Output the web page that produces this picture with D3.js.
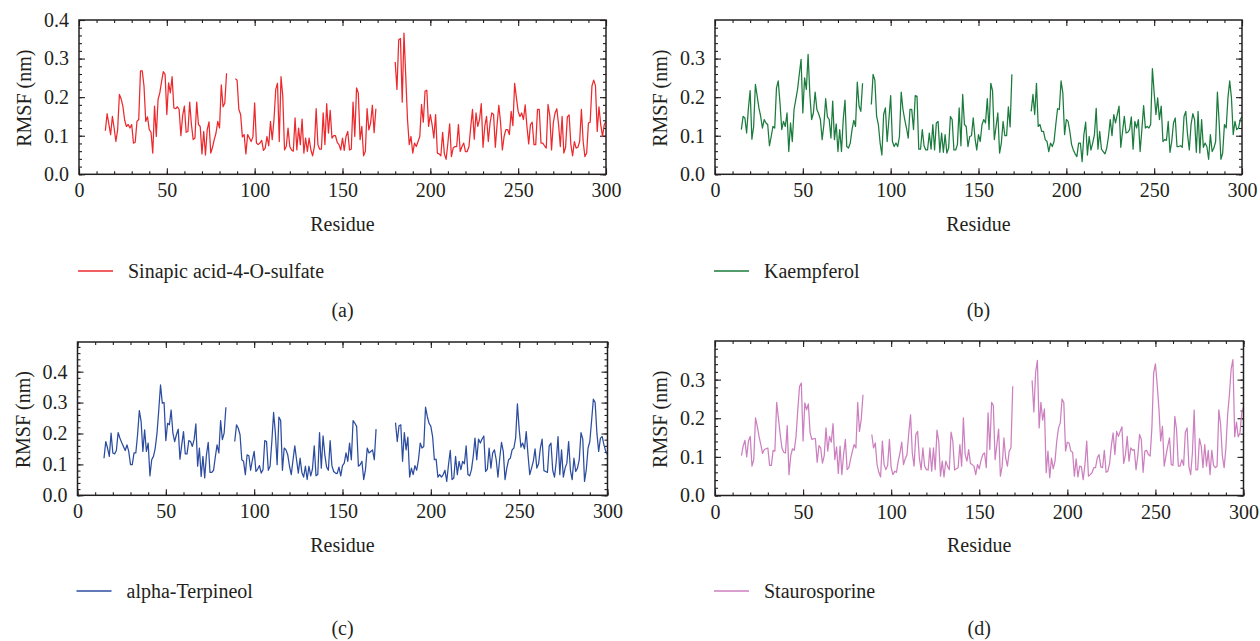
<!DOCTYPE html>
<html>
<head>
<meta charset="utf-8">
<script src="https://cdn.jsdelivr.net/npm/d3@7"></script>
<style>
  body { margin: 0; background: #fff; }
  svg text { font-family: "Liberation Serif", "DejaVu Serif", serif; fill: #231f20; }
</style>
</head>
<body>
<div></div>
<script>
// residue where each continuous stretch of data starts (gaps 85-88 and 170-179)
var segStarts = [15, 89, 180];

var xTicks = [0, 50, 100, 150, 200, 250, 300];

var names = ["Sinapic acid-4-O-sulfate", "Kaempferol", "alpha-Terpineol", "Staurosporine"];
var panelTags = ["(a)", "(b)", "(c)", "(d)"];
var colors = ["#ec2a2e", "#1b7b3d", "#2c4c9f", "#cd80bf"];

// RMSF values (nm), one array per stretch
var sinapic = [
  [.113,.157,.130,.103,.150,.120,.085,.116,.207,.195,
   .176,.140,.124,.129,.120,.129,.081,.083,.137,.142,
   .268,.268,.229,.137,.149,.116,.109,.055,.177,.098,
   .194,.211,.240,.266,.259,.155,.237,.211,.253,.172,
   .170,.175,.168,.100,.152,.177,.109,.111,.187,.129,
   .090,.094,.187,.129,.124,.053,.111,.050,.116,.136,
   .055,.070,.090,.107,.137,.120,.232,.175,.185,.262],
  [.248,.244,.168,.155,.097,.103,.053,.103,.094,.085,
   .097,.185,.081,.077,.081,.088,.062,.068,.098,.074,
   .137,.090,.142,.220,.236,.085,.253,.203,.063,.072,
   .120,.072,.063,.060,.146,.063,.120,.077,.143,.055,
   .094,.059,.094,.063,.048,.072,.170,.077,.065,.065,
   .159,.077,.183,.107,.166,.094,.100,.100,.083,.077,
   .063,.094,.062,.098,.111,.063,.065,.187,.098,.224,
   .211,.090,.124,.048,.059,.170,.115,.133,.179,.108,
   .170],
  [.291,.220,.349,.352,.187,.366,.255,.142,.077,.098,
   .055,.081,.072,.085,.098,.181,.135,.216,.218,.124,
   .155,.129,.094,.155,.055,.053,.048,.109,.053,.039,
   .081,.131,.046,.068,.072,.072,.129,.059,.072,.081,
   .059,.059,.072,.123,.168,.091,.159,.124,.142,.183,
   .070,.124,.150,.085,.133,.159,.155,.070,.129,.179,
   .133,.063,.098,.116,.116,.103,.163,.126,.236,.198,
   .163,.150,.159,.142,.180,.124,.079,.129,.135,.077,
   .077,.168,.168,.081,.081,.074,.068,.181,.152,.063,
   .133,.159,.170,.129,.072,.150,.055,.070,.149,.154,
   .077,.048,.085,.068,.070,.085,.168,.085,.046,.055,
   .133,.135,.229,.244,.230,.111,.175,.129,.098,.129,
   .137]
];

var kaempferol = [
  [.116,.150,.146,.107,.170,.217,.091,.124,.233,.203,
   .172,.150,.120,.142,.133,.129,.074,.098,.124,.120,
   .224,.242,.185,.116,.137,.124,.159,.059,.133,.085,
   .168,.194,.220,.260,.298,.159,.250,.220,.311,.207,
   .142,.159,.213,.168,.157,.142,.090,.129,.196,.149,
   .142,.094,.190,.090,.131,.059,.116,.059,.142,.192,
   .072,.068,.081,.116,.140,.124,.239,.177,.163,.236],
  [.181,.259,.244,.150,.129,.081,.050,.155,.172,.085,
   .142,.204,.085,.072,.081,.072,.098,.213,.168,.142,
   .120,.094,.168,.168,.116,.204,.202,.065,.065,.116,
   .074,.063,.063,.107,.065,.129,.063,.133,.137,.057,
   .107,.057,.103,.055,.068,.150,.142,.063,.063,.077,
   .172,.074,.207,.129,.124,.072,.098,.100,.146,.094,
   .063,.103,.085,.129,.142,.133,.196,.116,.236,.216,
   .090,.124,.159,.055,.081,.137,.100,.100,.175,.123,
   .259],
  [.163,.207,.155,.236,.124,.129,.111,.111,.090,.085,
   .059,.081,.072,.085,.129,.170,.168,.242,.211,.103,
   .142,.137,.111,.077,.063,.053,.046,.081,.081,.033,
   .103,.135,.050,.098,.063,.081,.103,.171,.065,.111,
   .065,.059,.053,.068,.098,.142,.100,.155,.133,.155,
   .177,.070,.111,.150,.107,.109,.116,.149,.065,.137,
   .120,.142,.059,.116,.178,.120,.124,.120,.129,.274,
   .211,.155,.198,.142,.177,.085,.090,.088,.137,.057,
   .085,.133,.146,.072,.072,.074,.070,.150,.163,.103,
   .063,.129,.157,.142,.057,.163,.055,.142,.070,.081,
   .072,.039,.103,.059,.068,.085,.213,.133,.039,.055,
   .129,.120,.198,.242,.198,.103,.137,.116,.120,.142,
   .150]
];

var terpineol = [
  [.120,.174,.153,.126,.201,.137,.134,.145,.203,.185,
   .171,.158,.145,.163,.142,.099,.099,.137,.137,.196,
   .274,.239,.142,.212,.142,.169,.063,.115,.126,.153,
   .201,.276,.357,.298,.300,.177,.233,.228,.276,.201,
   .174,.196,.214,.117,.163,.206,.134,.134,.177,.174,
   .158,.180,.231,.094,.153,.061,.126,.056,.131,.171,
   .074,.074,.081,.124,.163,.137,.242,.180,.201,.285],
  [.174,.228,.217,.196,.115,.110,.067,.131,.128,.081,
   .115,.142,.077,.085,.096,.072,.083,.177,.174,.081,
   .094,.174,.268,.201,.099,.253,.242,.081,.153,.147,
   .131,.094,.067,.115,.160,.115,.072,.120,.074,.059,
   .094,.051,.094,.063,.085,.160,.063,.067,.203,.088,
   .192,.131,.091,.081,.177,.096,.077,.072,.070,.091,
   .063,.096,.104,.137,.110,.169,.115,.242,.233,.223,
   .094,.099,.110,.051,.083,.153,.137,.142,.147,.115,
   .214],
  [.235,.174,.225,.228,.110,.203,.147,.188,.059,.088,
   .067,.096,.081,.115,.169,.153,.158,.285,.255,.233,
   .223,.190,.115,.117,.059,.067,.059,.067,.081,.045,
   .099,.145,.051,.056,.126,.067,.110,.083,.110,.102,
   .160,.067,.063,.083,.126,.185,.115,.182,.169,.182,
   .192,.077,.085,.153,.088,.137,.147,.115,.059,.120,
   .171,.142,.051,.088,.115,.120,.147,.153,.185,.296,
   .214,.156,.169,.150,.206,.131,.067,.088,.110,.150,
   .088,.102,.153,.182,.080,.077,.074,.160,.169,.081,
   .059,.110,.190,.067,.147,.059,.088,.104,.174,.081,
   .051,.120,.077,.088,.115,.203,.182,.045,.083,.153,
   .174,.242,.311,.300,.201,.142,.185,.190,.163,.142,
   .131]
];

var staurosporine = [
  [.103,.128,.143,.100,.141,.153,.076,.093,.201,.179,
   .153,.132,.109,.119,.121,.123,.078,.078,.117,.115,
   .241,.201,.158,.123,.112,.110,.181,.054,.103,.121,
   .117,.153,.222,.283,.291,.141,.240,.222,.237,.162,
   .145,.147,.147,.086,.129,.123,.084,.103,.175,.115,
   .153,.138,.186,.093,.126,.057,.128,.054,.106,.145,
   .067,.072,.095,.115,.132,.123,.241,.166,.197,.261],
  [.158,.123,.136,.080,.060,.048,.141,.080,.067,.078,
   .145,.072,.054,.063,.060,.089,.110,.138,.080,.095,
   .106,.162,.209,.110,.076,.158,.166,.097,.067,.123,
   .076,.067,.066,.123,.063,.123,.067,.169,.141,.050,
   .089,.048,.089,.076,.067,.164,.141,.066,.069,.072,
   .132,.076,.201,.106,.089,.119,.083,.080,.076,.054,
   .080,.069,.091,.106,.110,.072,.214,.119,.241,.233,
   .093,.132,.172,.050,.076,.149,.097,.076,.115,.123,
   .283],
  [.298,.216,.319,.350,.175,.241,.195,.224,.059,.115,
   .046,.097,.069,.089,.141,.175,.188,.250,.241,.115,
   .138,.136,.115,.112,.050,.095,.048,.076,.074,.041,
   .080,.141,.050,.054,.059,.072,.072,.097,.106,.074,
   .072,.117,.060,.063,.083,.129,.162,.106,.166,.153,
   .166,.178,.083,.106,.153,.089,.123,.117,.119,.067,
   .103,.158,.145,.060,.115,.117,.106,.102,.175,.317,
   .341,.287,.224,.141,.179,.076,.103,.128,.149,.080,
   .078,.205,.171,.076,.076,.093,.078,.164,.175,.076,
   .054,.110,.221,.066,.067,.147,.128,.072,.132,.076,
   .117,.054,.117,.078,.072,.076,.222,.184,.103,.072,
   .123,.209,.261,.328,.352,.152,.190,.152,.162,.214,
   .229]
];

var allSeries = [sinapic, kaempferol, terpineol, staurosporine];

// panel frames: plot box, y extent, labelled ticks, legend / tag rows
var panels = [
  {x0: 79, x1: 606, y0: 20, y1: 174.3, ymax: 0.4, yLab: [0, .1, .2, .3, .4], leg: 271, tag: 317},
  {x0: 715, x1: 1242, y0: 20, y1: 174.3, ymax: 0.4, yLab: [0, .1, .2, .3], leg: 271, tag: 317},
  {x0: 77.5, x1: 607.5, y0: 342, y1: 495.3, ymax: 0.496, yLab: [0, .1, .2, .3, .4], leg: 591, tag: 635},
  {x0: 715, x1: 1243.5, y0: 341, y1: 495.5, ymax: 0.4, yLab: [0, .1, .2, .3], leg: 591, tag: 635}
];

var svg = d3.select("div")
    .append("svg")
    .attr("width", 1260)
    .attr("height", 641);

var fs = 20;

panels.forEach(function (p, k) {
    var x = d3.scaleLinear().domain([0, 300]).range([p.x0, p.x1]);
    var y = d3.scaleLinear().domain([0, p.ymax]).range([p.y1, p.y0]);
    var g = svg.append("g");

    var minorY = d3.range(0, p.ymax - 0.001, 0.02);
    var minorX = d3.range(0, 301, 10);

    // minor ticks on all four sides
    g.append("g").attr("transform", "translate(" + p.x0 + ",0)")
        .call(d3.axisLeft(y).tickValues(minorY).tickSize(-3).tickSizeOuter(0).tickFormat(""));
    g.append("g").attr("transform", "translate(" + p.x1 + ",0)")
        .call(d3.axisRight(y).tickValues(minorY).tickSize(-3).tickSizeOuter(0).tickFormat(""));
    g.append("g").attr("transform", "translate(0," + p.y1 + ")")
        .call(d3.axisBottom(x).tickValues(minorX).tickSize(-3).tickSizeOuter(0).tickFormat(""));
    g.append("g").attr("transform", "translate(0," + p.y0 + ")")
        .call(d3.axisTop(x).tickValues(minorX).tickSize(-3).tickSizeOuter(0).tickFormat(""));

    // major ticks
    g.append("g").attr("transform", "translate(" + p.x0 + ",0)")
        .call(d3.axisLeft(y).tickValues(p.yLab).tickSize(-6).tickSizeOuter(0).tickPadding(10).tickFormat(d3.format(".1f")));
    g.append("g").attr("transform", "translate(" + p.x1 + ",0)")
        .call(d3.axisRight(y).tickValues(p.yLab).tickSize(-6).tickSizeOuter(0).tickFormat(""));
    g.append("g").attr("transform", "translate(0," + p.y1 + ")")
        .call(d3.axisBottom(x).tickValues(xTicks).tickSize(-6).tickSizeOuter(0).tickPadding(9).tickFormat(d3.format("d")));
    g.append("g").attr("transform", "translate(0," + p.y0 + ")")
        .call(d3.axisTop(x).tickValues(xTicks).tickSize(-6).tickSizeOuter(0).tickFormat(""));

    g.selectAll(".domain").remove();
    g.selectAll(".tick line").attr("stroke", "#231f20").attr("stroke-width", 1.1);
    g.selectAll(".tick text")
        .attr("font-size", fs)
        .style("font-family", "'Liberation Serif', serif")
        .attr("fill", "#231f20");

    // data lines, one path per stretch
    var line = d3.line()
        .x(function (d) { return x(d[0]); })
        .y(function (d) { return y(d[1]); });
    allSeries[k].forEach(function (seg, j) {
        var pts = seg.map(function (v, i) { return [segStarts[j] + i, v]; });
        g.append("path")
            .datum(pts)
            .attr("fill", "none")
            .attr("stroke", colors[k])
            .attr("stroke-width", 1.25)
            .attr("stroke-linejoin", "round")
            .attr("d", line);
    });

    // frame
    g.append("rect")
        .attr("x", p.x0).attr("y", p.y0)
        .attr("width", p.x1 - p.x0).attr("height", p.y1 - p.y0)
        .attr("fill", "none")
        .attr("stroke", "#231f20")
        .attr("stroke-width", 1.5);

    // axis titles
    var cx = (p.x0 + p.x1) / 2;
    g.append("text")
        .attr("x", cx).attr("y", p.y1 + 56.5)
        .attr("text-anchor", "middle")
        .attr("font-size", fs)
        .text("Residue");
    g.append("text")
        .attr("transform", "translate(" + (p.x0 - 48) + "," + ((p.y0 + p.y1) / 2 + 1) + ") rotate(-90)")
        .attr("text-anchor", "middle")
        .attr("font-size", fs)
        .text("RMSF (nm)");

    // legend
    g.append("line")
        .attr("x1", p.x0 - 1).attr("x2", p.x0 + 34)
        .attr("y1", p.leg).attr("y2", p.leg)
        .attr("stroke", colors[k]).attr("stroke-width", 1.3);
    g.append("text")
        .attr("x", p.x0 + 49).attr("y", p.leg + 6.5)
        .attr("font-size", fs)
        .text(names[k]);

    // panel tag
    g.append("text")
        .attr("x", cx).attr("y", p.tag)
        .attr("text-anchor", "middle")
        .attr("font-size", fs)
        .text(panelTags[k]);
});
</script>
</body>
</html>
